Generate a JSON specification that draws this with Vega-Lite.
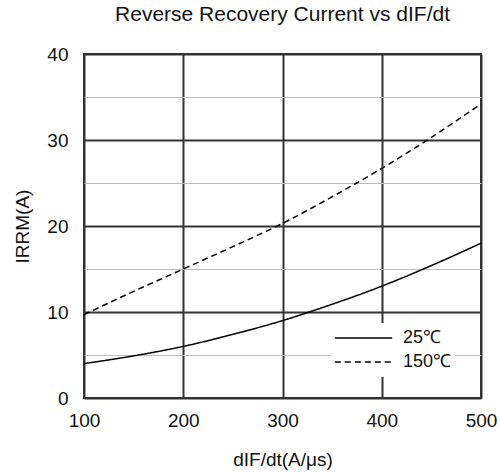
{
  "$schema": "https://vega.github.io/schema/vega-lite/v6.json",
  "autosize": "none",
  "padding": {"left": 84, "top": 54, "right": 19, "bottom": 74},
  "width": 397,
  "height": 344,
  "background": "white",
  "title": {"text": "Reverse Recovery Current vs dIF/dt", "font": "Liberation Sans", "fontSize": 21, "fontWeight": "normal", "color": "#111", "offset": 20, "anchor": "middle"},
  "data": {"values": [
    {"x": 100, "y": 4.0, "s": "25℃"},
    {"x": 150, "y": 4.9, "s": "25℃"},
    {"x": 200, "y": 6.0, "s": "25℃"},
    {"x": 250, "y": 7.4, "s": "25℃"},
    {"x": 300, "y": 9.0, "s": "25℃"},
    {"x": 350, "y": 10.9, "s": "25℃"},
    {"x": 400, "y": 13.0, "s": "25℃"},
    {"x": 450, "y": 15.4, "s": "25℃"},
    {"x": 500, "y": 18.0, "s": "25℃"},
    {"x": 100, "y": 9.7, "s": "150℃"},
    {"x": 150, "y": 12.4, "s": "150℃"},
    {"x": 200, "y": 15.0, "s": "150℃"},
    {"x": 250, "y": 17.6, "s": "150℃"},
    {"x": 300, "y": 20.3, "s": "150℃"},
    {"x": 350, "y": 23.4, "s": "150℃"},
    {"x": 400, "y": 26.7, "s": "150℃"},
    {"x": 450, "y": 30.3, "s": "150℃"},
    {"x": 500, "y": 34.2, "s": "150℃"}
  ]},
  "mark": {"type": "line", "color": "black", "strokeWidth": 1.5, "interpolate": "monotone"},
  "encoding": {
    "x": {"field": "x", "type": "quantitative", "scale": {"domain": [100, 500], "nice": false},
      "axis": {"values": [100, 200, 300, 400, 500], "title": "dIF/dt(A/μs)", "ticks": false, "domain": false, "labelFlush": false,
        "gridColor": "#333", "gridWidth": 2, "labelPadding": 13, "titlePadding": 20}},
    "y": {"field": "y", "type": "quantitative", "scale": {"domain": [0, 40], "nice": false},
      "axis": {"values": [0, 5, 10, 15, 20, 25, 30, 35, 40], "title": "IRRM(A)", "ticks": false, "domain": false, "labelFlush": false,
        "labelExpr": "datum.value % 10 === 0 ? datum.label : ''",
        "gridColor": {"condition": {"test": "datum.value % 10 === 0", "value": "#333"}, "value": "#bdbdbd"},
        "gridWidth": {"condition": {"test": "datum.value % 10 === 0", "value": 2}, "value": 1},
        "labelPadding": 16, "titlePadding": 14}},
    "strokeDash": {"field": "s", "type": "nominal", "sort": ["25℃", "150℃"],
      "scale": {"domain": ["25℃", "150℃"], "range": [[1, 0], [6, 4]]},
      "legend": {"title": null, "orient": "none", "legendX": 247, "legendY": 269, "fillColor": "white",
        "padding": 3, "symbolType": "stroke", "symbolSize": 3300, "symbolStrokeWidth": 1.5, "symbolStrokeColor": "black",
        "labelFont": "Liberation Sans", "labelFontSize": 18, "labelColor": "#111", "rowPadding": 0, "labelOffset": 10, "clipHeight": 24}}
  },
  "config": {
    "font": "Liberation Sans",
    "view": {"stroke": "#333", "strokeWidth": 2},
    "axis": {"labelFont": "Liberation Sans", "labelFontSize": 19, "labelColor": "#111", "titleFont": "Liberation Sans", "titleFontSize": 19, "titleFontWeight": "normal", "titleColor": "#111", "gridOpacity": 1}
  }
}
